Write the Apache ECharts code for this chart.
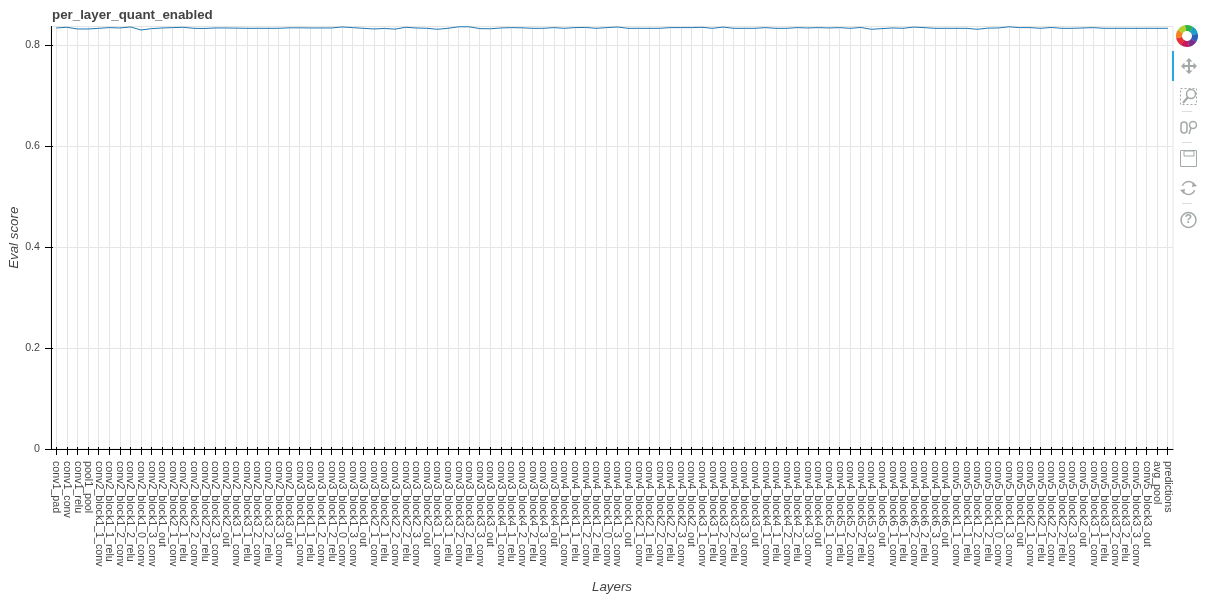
<!DOCTYPE html>
<html>
<head>
<meta charset="utf-8">
<style>
html, body { margin: 0; padding: 0; background: #fff; }
#main { width: 1207px; height: 601px; }
</style>
<script src="https://cdn.jsdelivr.net/npm/echarts@6/dist/echarts.min.js"></script>
</head>
<body>
<div id="main"></div>
<script>
var layers = [
    'conv1_pad', 'conv1_conv', 'conv1_relu', 'pool1_pool',
    'conv2_block1_1_conv', 'conv2_block1_1_relu', 'conv2_block1_2_conv', 'conv2_block1_2_relu', 'conv2_block1_0_conv', 'conv2_block1_3_conv', 'conv2_block1_out',
    'conv2_block2_1_conv', 'conv2_block2_1_relu', 'conv2_block2_2_conv', 'conv2_block2_2_relu', 'conv2_block2_3_conv', 'conv2_block2_out',
    'conv2_block3_1_conv', 'conv2_block3_1_relu', 'conv2_block3_2_conv', 'conv2_block3_2_relu', 'conv2_block3_3_conv', 'conv2_block3_out',
    'conv3_block1_1_conv', 'conv3_block1_1_relu', 'conv3_block1_2_conv', 'conv3_block1_2_relu', 'conv3_block1_0_conv', 'conv3_block1_3_conv', 'conv3_block1_out',
    'conv3_block2_1_conv', 'conv3_block2_1_relu', 'conv3_block2_2_conv', 'conv3_block2_2_relu', 'conv3_block2_3_conv', 'conv3_block2_out',
    'conv3_block3_1_conv', 'conv3_block3_1_relu', 'conv3_block3_2_conv', 'conv3_block3_2_relu', 'conv3_block3_3_conv', 'conv3_block3_out',
    'conv3_block4_1_conv', 'conv3_block4_1_relu', 'conv3_block4_2_conv', 'conv3_block4_2_relu', 'conv3_block4_3_conv', 'conv3_block4_out',
    'conv4_block1_1_conv', 'conv4_block1_1_relu', 'conv4_block1_2_conv', 'conv4_block1_2_relu', 'conv4_block1_0_conv', 'conv4_block1_3_conv', 'conv4_block1_out',
    'conv4_block2_1_conv', 'conv4_block2_1_relu', 'conv4_block2_2_conv', 'conv4_block2_2_relu', 'conv4_block2_3_conv', 'conv4_block2_out',
    'conv4_block3_1_conv', 'conv4_block3_1_relu', 'conv4_block3_2_conv', 'conv4_block3_2_relu', 'conv4_block3_3_conv', 'conv4_block3_out',
    'conv4_block4_1_conv', 'conv4_block4_1_relu', 'conv4_block4_2_conv', 'conv4_block4_2_relu', 'conv4_block4_3_conv', 'conv4_block4_out',
    'conv4_block5_1_conv', 'conv4_block5_1_relu', 'conv4_block5_2_conv', 'conv4_block5_2_relu', 'conv4_block5_3_conv', 'conv4_block5_out',
    'conv4_block6_1_conv', 'conv4_block6_1_relu', 'conv4_block6_2_conv', 'conv4_block6_2_relu', 'conv4_block6_3_conv', 'conv4_block6_out',
    'conv5_block1_1_conv', 'conv5_block1_1_relu', 'conv5_block1_2_conv', 'conv5_block1_2_relu', 'conv5_block1_0_conv', 'conv5_block1_3_conv', 'conv5_block1_out',
    'conv5_block2_1_conv', 'conv5_block2_1_relu', 'conv5_block2_2_conv', 'conv5_block2_2_relu', 'conv5_block2_3_conv', 'conv5_block2_out',
    'conv5_block3_1_conv', 'conv5_block3_1_relu', 'conv5_block3_2_conv', 'conv5_block3_2_relu', 'conv5_block3_3_conv', 'conv5_block3_out',
    'avg_pool', 'predictions'
];
var evalScore = [
    0.8337, 0.8350, 0.8317, 0.8317, 0.8330, 0.8344, 0.8337, 0.8357, 0.8297, 0.8324,
    0.8337, 0.8344, 0.8350, 0.8330, 0.8327, 0.8337, 0.8337, 0.8334, 0.8330, 0.8330,
    0.8330, 0.8330, 0.8340, 0.8340, 0.8337, 0.8337, 0.8337, 0.8357, 0.8344, 0.8330,
    0.8317, 0.8327, 0.8314, 0.8350, 0.8337, 0.8330, 0.8311, 0.8330, 0.8360, 0.8360,
    0.8324, 0.8321, 0.8337, 0.8344, 0.8340, 0.8330, 0.8330, 0.8344, 0.8330, 0.8344,
    0.8347, 0.8330, 0.8344, 0.8357, 0.8330, 0.8330, 0.8330, 0.8330, 0.8344, 0.8344,
    0.8344, 0.8350, 0.8330, 0.8354, 0.8330, 0.8330, 0.8330, 0.8344, 0.8330, 0.8330,
    0.8344, 0.8337, 0.8344, 0.8337, 0.8344, 0.8330, 0.8347, 0.8311, 0.8324, 0.8337,
    0.8330, 0.8354, 0.8344, 0.8330, 0.8330, 0.8330, 0.8330, 0.8311, 0.8334, 0.8337,
    0.8360, 0.8344, 0.8344, 0.8330, 0.8347, 0.8330, 0.8330, 0.8337, 0.8344, 0.8330,
    0.8330, 0.8330, 0.8330, 0.8330, 0.8330, 0.8330
];
var yTicks = [0, 0.2, 0.4, 0.6, 0.8];
var logoColors = ['#2fb24c', '#1c9fc4', '#2b5fb8', '#7b2d8e', '#c8185f', '#e8303a', '#f58220', '#b5cf2f'];

var chart = echarts.init(document.getElementById('main'), null, { renderer: 'canvas' });
var font = '"Liberation Sans", Helvetica, Arial, sans-serif';
var iconColor = '#a3a8a8';

// toolbar, drawn as plain chrome next to the plot
var toolbar = [
    { type: 'rect', shape: { x: 1172, y: 51, width: 2, height: 30 }, style: { fill: '#26aae1' } }
];
logoColors.forEach(function (c, i) {
    var a = -Math.PI / 2 - 0.2 + i * Math.PI / 4;
    toolbar.push({ type: 'sector', shape: { cx: 1187, cy: 36, r: 11, r0: 5, startAngle: a, endAngle: a + Math.PI / 4 + 0.02 }, style: { fill: c } });
});
toolbar = toolbar.concat([
    // pan
    { type: 'polygon', shape: { points: [[1189, 58], [1192.5, 61.5], [1190, 61.5], [1190, 65], [1193.5, 65], [1193.5, 62.5], [1197, 66], [1193.5, 69.5], [1193.5, 67], [1190, 67], [1190, 70.5], [1192.5, 70.5], [1189, 74], [1185.5, 70.5], [1188, 70.5], [1188, 67], [1184.5, 67], [1184.5, 69.5], [1181, 66], [1184.5, 62.5], [1184.5, 65], [1188, 65], [1188, 61.5], [1185.5, 61.5]] }, style: { fill: iconColor } },
    // box zoom
    { type: 'rect', shape: { x: 1180.5, y: 88.5, width: 16, height: 16 }, style: { fill: 'none', stroke: iconColor, lineDash: [2, 2] } },
    { type: 'circle', shape: { cx: 1191, cy: 94, r: 4.5 }, style: { fill: '#fff', stroke: iconColor, lineWidth: 1.5 } },
    { type: 'line', shape: { x1: 1188, y1: 97, x2: 1183, y2: 103 }, style: { stroke: iconColor, lineWidth: 2 } },
    { type: 'line', shape: { x1: 1182, y1: 111.5, x2: 1192, y2: 111.5 }, style: { stroke: '#ddd' } },
    // wheel zoom
    { type: 'rect', shape: { x: 1181, y: 122, width: 6, height: 11, r: 3 }, style: { fill: 'none', stroke: iconColor, lineWidth: 1.5 } },
    { type: 'circle', shape: { cx: 1193, cy: 125, r: 3.5 }, style: { fill: 'none', stroke: iconColor, lineWidth: 1.5 } },
    { type: 'line', shape: { x1: 1191, y1: 128, x2: 1189, y2: 134 }, style: { stroke: iconColor, lineWidth: 1.5 } },
    { type: 'line', shape: { x1: 1182, y1: 142.5, x2: 1192, y2: 142.5 }, style: { stroke: '#ddd' } },
    // save
    { type: 'rect', shape: { x: 1180.5, y: 150.5, width: 16, height: 16 }, style: { fill: 'none', stroke: iconColor, lineWidth: 1 } },
    { type: 'rect', shape: { x: 1184, y: 151, width: 10, height: 5 }, style: { fill: 'none', stroke: iconColor, lineWidth: 1 } },
    { type: 'line', shape: { x1: 1182, y1: 203.5, x2: 1192, y2: 203.5 }, style: { stroke: '#ddd' } },
    // reset
    { type: 'arc', shape: { cx: 1188.5, cy: 188, r: 6.5, startAngle: 3.5, endAngle: 5.9 }, style: { fill: 'none', stroke: iconColor, lineWidth: 1.5 } },
    { type: 'arc', shape: { cx: 1188.5, cy: 188, r: 6.5, startAngle: 0.35, endAngle: 2.8 }, style: { fill: 'none', stroke: iconColor, lineWidth: 1.5 } },
    { type: 'polygon', shape: { points: [[1193, 182], [1197, 186], [1192, 187]] }, style: { fill: iconColor } },
    { type: 'polygon', shape: { points: [[1184, 194], [1180, 190], [1185, 189]] }, style: { fill: iconColor } },
    // help
    { type: 'circle', shape: { cx: 1188.5, cy: 220, r: 7.5 }, style: { fill: 'none', stroke: iconColor, lineWidth: 1.5 } },
    { type: 'text', style: { x: 1188.5, y: 220, text: '?', fill: iconColor, font: 'bold 12px ' + font, align: 'center', verticalAlign: 'middle' } }
]);

var option = {
    animation: false,
    backgroundColor: '#fff',
    title: {
        text: 'per_layer_quant_enabled',
        left: 52,
        top: 9,
        padding: 0,
        textStyle: { color: '#444', fontSize: 13.33, fontWeight: 'bold', fontFamily: font }
    },
    grid: {
        left: 51,
        top: 26.5,
        width: 1122,
        height: 422.5,
        outerBoundsMode: 'none',
        show: true,
        borderColor: '#e5e5e5',
        borderWidth: 1,
        backgroundColor: 'transparent'
    },
    xAxis: [{
        type: 'category',
        data: layers,
        boundaryGap: true,
        name: 'Layers',
        nameLocation: 'middle',
        nameGap: 132,
        nameTextStyle: { color: '#444', fontSize: 13.33, fontStyle: 'italic', fontFamily: font },
        axisLine: { onZero: false, lineStyle: { color: '#000', width: 1 } },
        axisTick: { show: true, alignWithLabel: true, interval: 0, length: 6, lineStyle: { color: '#000' } },
        axisLabel: {
            interval: 0,
            rotate: -90,
            margin: 12,
            color: '#444',
            fontSize: 10.67,
            fontFamily: font,
            hideOverlap: false
        },
        splitLine: { show: true, interval: 0, alignWithLabel: true, lineStyle: { color: '#e5e5e5', width: 1 } }
    }, {
        // short inner part of the ticks
        type: 'category',
        data: layers,
        position: 'bottom',
        axisLine: { show: false, onZero: false },
        axisTick: { show: true, alignWithLabel: true, interval: 0, inside: true, length: 2, lineStyle: { color: '#000' } },
        axisLabel: { show: false },
        splitLine: { show: false }
    }],
    yAxis: [{
        type: 'value',
        min: 0,
        max: 0.8366,
        interval: 0.2,
        name: 'Eval score',
        nameLocation: 'middle',
        nameGap: 30,
        nameMoveOverlap: false,
        nameTextStyle: { color: '#444', fontSize: 13.33, fontStyle: 'italic', fontFamily: font },
        axisLine: { show: true, onZero: false, lineStyle: { color: '#000', width: 1 } },
        axisTick: { show: true, length: 6, customValues: yTicks, lineStyle: { color: '#000' } },
        axisLabel: {
            customValues: yTicks,
            margin: 11,
            color: '#444',
            fontSize: 10.67,
            fontFamily: font,
            formatter: function (v) { return v === 0 ? '0' : String(v); }
        },
        splitLine: { show: true, lineStyle: { color: '#e5e5e5', width: 1 } }
    }, {
        type: 'value',
        position: 'left',
        min: 0,
        max: 0.8366,
        axisLine: { show: false, onZero: false },
        axisTick: { show: true, inside: true, length: 2, customValues: yTicks, lineStyle: { color: '#000' } },
        axisLabel: { show: false },
        splitLine: { show: false }
    }],
    series: [{
        name: 'Eval score',
        type: 'line',
        data: evalScore,
        symbol: 'none',
        clip: false,
        lineStyle: { color: '#1f77b4', width: 1 }
    }],
    graphic: toolbar
};
chart.setOption(option);
</script>
</body>
</html>
